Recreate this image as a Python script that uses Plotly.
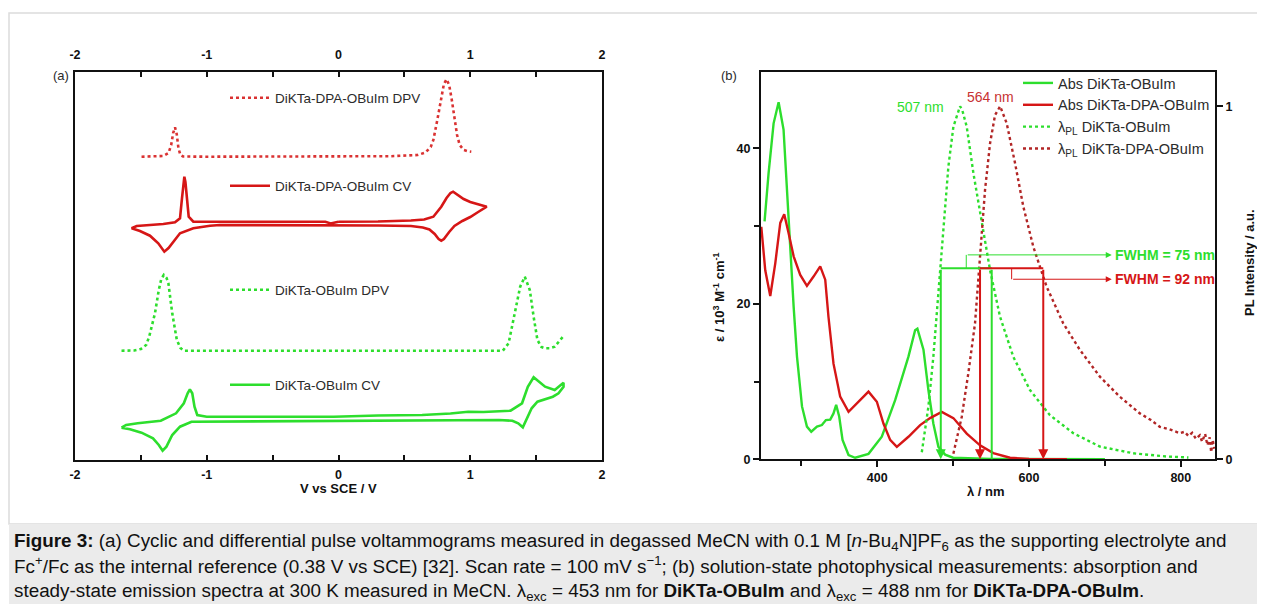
import plotly.graph_objects as go

# ---------------- Panel (a) data: potential (V vs SCE) and offset current (arb.) ----------------
dpv_red_v = [-1.495, -1.40, -1.33, -1.29, -1.27, -1.255, -1.241, -1.228, -1.215, -1.20, -1.18, -1.0, -0.5, 0.0, 0.4,
             0.6, 0.66, 0.70, 0.72, 0.75, 0.78, 0.80, 0.82, 0.84, 0.86, 0.88, 0.90, 0.92, 0.95, 0.98, 1.008]
dpv_red_i = [303.3, 303.5, 304, 307, 315, 327, 332.7, 326, 312, 305, 303.5, 303.3, 303.3, 303.5, 303.8,
             305, 307.5, 313, 320, 340, 362, 376, 380.7, 375, 360, 340, 325, 315, 310, 308.8, 308.3]

cv_red_v = [0.0, 0.3, 0.55, 0.65, 0.72, 0.78, 0.82, 0.85, 0.87, 0.90, 0.95, 1.0, 1.06, 1.125,
            1.06, 1.0, 0.94, 0.88, 0.84, 0.80, 0.78, 0.76, 0.73, 0.69, 0.64, 0.55, 0.3, 0.0, -0.5, -0.9,
            -0.975, -1.102, -1.203, -1.254, -1.29, -1.322, -1.368, -1.431, -1.507, -1.570,
            -1.532, -1.431, -1.33, -1.241, -1.203, -1.188, -1.178, -1.170, -1.162, -1.152, -1.137, -1.102,
            -0.8, -0.4, -0.1, -0.06, -0.03, 0.0]
cv_red_i = [238.3, 238.5, 239.5, 240.5, 243.3, 253.3, 262, 267, 268.3, 265.5, 261, 258, 255.5, 253.3,
            248, 243, 239, 234, 228, 221, 219.3, 221, 226, 230.5, 232.5, 234, 234.5, 234.8, 235, 235,
            234.3, 231.7, 226.7, 218.3, 212, 208.3, 216.7, 224.3, 229, 231.7,
            234, 235, 236, 237.7, 241.7, 261.7, 278, 283.3, 278, 261.7, 243.3, 238.3,
            238.3, 238.3, 238.3, 236.5, 237.5, 238.3]

dpv_green_v = [-1.647, -1.55, -1.50, -1.46, -1.437, -1.393, -1.364, -1.345, -1.326, -1.305, -1.291, -1.262, -1.227,
               -1.20, -1.175, -0.5, 0.5, 1.247, 1.291, 1.335, 1.379, 1.414, 1.452, 1.481, 1.510, 1.54, 1.568,
               1.60, 1.641, 1.708]
dpv_green_i = [109.3, 109.5, 111, 115, 123.3, 146.7, 170, 181, 185, 182, 176.7, 146.7, 120,
               112, 109.3, 109.3, 109.3, 109.3, 116.7, 146.7, 173.3, 183.3, 170, 143.3, 120, 113, 111.7,
               111.7, 113.3, 124]

cv_green_v = [-1.647, -1.612, -1.524, -1.349, -1.233, -1.174, -1.145, -1.128, -1.110, -1.093, -1.072, -1.0,
              -0.5, -0.036, 0.3, 0.635, 0.85, 0.985, 1.1, 1.306, 1.393, 1.437, 1.481, 1.525, 1.568, 1.641, 1.708,
              1.708, 1.670, 1.627, 1.510, 1.466, 1.437, 1.399, 1.364, 1.32, 1.218, 0.5, 0.0, -0.5, -1.0,
              -1.116, -1.203, -1.262, -1.306, -1.335, -1.364, -1.408, -1.495, -1.583, -1.647]
cv_green_i = [32.3, 35, 36.7, 39.3, 46.7, 56.7, 66.7, 70.7, 66.7, 53.3, 45, 43.3,
              43.3, 43.3, 44.5, 45, 46.5, 48.3, 48, 49.3, 56.7, 73.3, 82.7, 78.3, 73.3, 70, 77.3,
              73.3, 66.7, 63.3, 58.3, 51.7, 43.3, 32.7, 36.7, 39.3, 40, 39.5, 39.3, 39, 38.8,
              38.3, 33.3, 25, 13.3, 9.3, 15, 21.7, 27.3, 30.7, 32.3]

v_ticks = [-2, -1, 0, 1, 2]
v_ticktext = ["-2", "-1", "0", "1", "2"]
v_minor = [-1.5, -0.5, 0.5, 1.5]

# ---------------- Panel (b) data ----------------
abs_green_wl = [251.7, 257, 263.6, 270.2, 276.7, 281.2, 285.5, 290, 294.4, 301, 307.5, 313.2, 320.7, 327.2, 332.5,
                338.2, 342.5, 346, 350, 354.4, 362.3, 371, 388.6, 406.1, 423.7, 441.2, 450, 453, 461, 467.5,
                474, 480.7, 489.5, 500, 550, 600, 700]
abs_green_eps = [30.6, 36.8, 43.2, 45.9, 42.4, 34.6, 26.9, 19.6, 13.2, 6.8, 4.2, 3.55, 4.2, 4.4, 5.05,
                 5.1, 5.9, 7.0, 5.5, 2.5, 0.55, 0.2, 0.7, 2.9, 7.6, 13.2, 16.6, 16.8, 14.1, 8.9,
                 4.6, 1.6, 0.6, 0.2, 0.05, 0.02, 0.0]

abs_red_wl = [247.4, 252.6, 259.2, 265.8, 272.4, 277.6, 283.3, 290, 298.7, 307.5, 316.2, 325, 331.6, 335.9,
              342.5, 351.3, 362.3, 375.4, 388.6, 399.6, 408.3, 417.1, 425.9, 441.2, 450, 456.6, 469.7, 485.1,
              500.4, 518, 535.5, 553, 575, 600, 650]
abs_red_eps = [29.9, 24.3, 21.0, 25.2, 30.4, 31.5, 29.1, 26.1, 23.7, 22.3, 23.5, 24.8, 23.1, 18.3,
               12.3, 8.05, 6.1, 7.4, 8.7, 7.4, 4.6, 2.5, 1.6, 2.9, 3.8, 4.4, 5.3, 6.1,
               5.3, 3.3, 1.8, 0.8, 0.2, 0.05, 0.0]

pl_green_wl = [458.8, 467.5, 474, 480.7, 487.3, 493.8, 500.4, 507, 509.2, 512, 518, 526.8, 537.8, 548.7, 561.8,
               579.4, 601.3, 627.6, 658.3, 693.4, 737.3, 781, 810]
pl_green_int = [0.02, 0.149, 0.29, 0.48, 0.669, 0.829, 0.942, 0.99, 1.0, 0.99, 0.942, 0.81, 0.669, 0.536, 0.404,
                0.29, 0.196, 0.125, 0.074, 0.036, 0.017, 0.008, 0.005]

pl_red_wl = [500.4, 511.4, 520.1, 528.9, 535.5, 542.1, 548.7, 555.3, 562, 570.6, 581.6, 592.5, 605.7, 623.2,
             645.1, 667, 693.4, 719.7, 746, 760, 772.4, 785, 798.7, 805, 810, 815, 820, 825, 828, 832, 835,
             838, 840, 842, 844]
pl_red_int = [0.016, 0.12, 0.244, 0.385, 0.574, 0.763, 0.895, 0.975, 1.0, 0.952, 0.839, 0.716, 0.602, 0.489,
              0.385, 0.31, 0.234, 0.177, 0.13, 0.112, 0.092, 0.085, 0.074, 0.078, 0.066, 0.075, 0.058, 0.068, 0.05,
              0.072, 0.04, 0.062, 0.02, 0.055, 0.03]

# FWHM markers (nm, normalised PL)
fwhm_green = [483.8, 550.9]
fwhm_red = [535.5, 618.8]
fwhm_level = 0.541
fwhm_labels = ["FWHM = 75 nm", "FWHM = 92 nm"]
peak_labels = ["507 nm", "564 nm"]

# ---------------- style ----------------
FONT = "Liberation Sans, Arial, sans-serif"
GREEN = "rgb(45,222,45)"
RED = "rgb(214,22,22)"
RED_DPV = "rgb(218,50,50)"
RED_PL = "rgb(178,38,38)"
TXT = "#2b2b2b"
W, H = 1265, 612


def px(x):
    return x / W


def py(y):
    return 1 - y / H


fig = go.Figure()

# Panel (a) traces, each with its own legend (DPV red drawn on the top axis, same range)
fig.add_trace(go.Scatter(x=dpv_red_v, y=dpv_red_i, mode="lines", name="DiKTa-DPA-OBuIm DPV",
                         line=dict(color=RED_DPV, width=2.6, dash="dot"), xaxis="x3", yaxis="y", legend="legend2"))
fig.add_trace(go.Scatter(x=cv_red_v, y=cv_red_i, mode="lines", name="DiKTa-DPA-OBuIm CV",
                         line=dict(color=RED, width=2.6), xaxis="x", yaxis="y", legend="legend3"))
fig.add_trace(go.Scatter(x=dpv_green_v, y=dpv_green_i, mode="lines", name="DiKTa-OBuIm DPV",
                         line=dict(color=GREEN, width=2.6, dash="dot"), xaxis="x", yaxis="y", legend="legend4"))
fig.add_trace(go.Scatter(x=cv_green_v, y=cv_green_i, mode="lines", name="DiKTa-OBuIm CV",
                         line=dict(color=GREEN, width=2.6), xaxis="x", yaxis="y", legend="legend5"))

# Panel (b) traces
fig.add_trace(go.Scatter(x=abs_green_wl, y=abs_green_eps, mode="lines", name="Abs DiKTa-OBuIm",
                         line=dict(color=GREEN, width=2.4), xaxis="x2", yaxis="y2", legend="legend"))
fig.add_trace(go.Scatter(x=abs_red_wl, y=abs_red_eps, mode="lines", name="Abs DiKTa-DPA-OBuIm",
                         line=dict(color=RED, width=2.4), xaxis="x2", yaxis="y2", legend="legend"))
fig.add_trace(go.Scatter(x=pl_green_wl, y=pl_green_int, mode="lines", name="λ<sub>PL</sub> DiKTa-OBuIm",
                         line=dict(color=GREEN, width=2.4, dash="dot"), xaxis="x2", yaxis="y3", legend="legend"))
fig.add_trace(go.Scatter(x=pl_red_wl, y=pl_red_int, mode="lines", name="λ<sub>PL</sub> DiKTa-DPA-OBuIm",
                         line=dict(color=RED_PL, width=2.4, dash="dot"), xaxis="x2", yaxis="y3", legend="legend"))

# FWHM horizontal bars
fig.add_trace(go.Scatter(x=fwhm_green, y=[fwhm_level, fwhm_level], mode="lines", showlegend=False,
                         line=dict(color=GREEN, width=2), xaxis="x2", yaxis="y3"))
fig.add_trace(go.Scatter(x=fwhm_red, y=[fwhm_level, fwhm_level], mode="lines", showlegend=False,
                         line=dict(color=RED, width=2), xaxis="x2", yaxis="y3"))

annotations = []
# vertical FWHM drop lines with arrows
for xv, col, head in [(fwhm_green[0], GREEN, 2), (fwhm_green[1], GREEN, 0),
                      (fwhm_red[0], RED, 2), (fwhm_red[1], RED, 2)]:
    annotations.append(dict(x=xv, y=0, ax=xv, ay=fwhm_level, xref="x2", yref="y3", axref="x2", ayref="y3",
                            text="", showarrow=True, arrowhead=head, arrowsize=1, arrowwidth=2,
                            arrowcolor=col, standoff=0))

# connectors to FWHM labels
g_mid = (fwhm_green[0] + fwhm_green[1]) / 2
r_mid = (fwhm_red[0] + fwhm_red[1]) / 2
lab_x = 709
for mid, ylev, col, txt in [(g_mid, 0.579, GREEN, fwhm_labels[0]), (r_mid, 0.51, RED, fwhm_labels[1])]:
    fig.add_trace(go.Scatter(x=[mid, mid], y=[fwhm_level, ylev], mode="lines", showlegend=False,
                             line=dict(color=col, width=1), xaxis="x2", yaxis="y3"))
    annotations.append(dict(x=lab_x, y=ylev, ax=mid, ay=ylev, xref="x2", yref="y3", axref="x2", ayref="y3",
                            text="", showarrow=True, arrowhead=2, arrowsize=1.2, arrowwidth=1,
                            arrowcolor=col, standoff=0))
    annotations.append(dict(x=lab_x + 1, y=ylev, xref="x2", yref="y3", text="<b>" + txt + "</b>",
                            showarrow=False, xanchor="left", yanchor="middle",
                            font=dict(family=FONT, size=14, color=col)))

# peak labels
annotations.append(dict(x=491, y=0.999, xref="x2", yref="y3", text=peak_labels[0], showarrow=False,
                        xanchor="right", yanchor="middle", font=dict(family=FONT, size=14, color=GREEN)))
annotations.append(dict(x=549, y=1.027, xref="x2", yref="y3", text=peak_labels[1], showarrow=False,
                        xanchor="center", yanchor="middle", font=dict(family=FONT, size=14, color="rgb(200,50,50)")))


def pann(x, y, text, size=13, color="#111", angle=0, xanchor="center"):
    return dict(x=px(x), y=py(y), xref="paper", yref="paper", text=text, showarrow=False, textangle=angle,
                xanchor=xanchor, yanchor="middle", font=dict(family=FONT, size=size, color=color))


# panel labels and axis titles
annotations += [
    pann(61, 75, "(a)", color=TXT),
    pann(729, 75, "(b)", color=TXT),
    pann(338, 488, "<b>V vs SCE / V</b>"),
    pann(986, 491, "<b>λ / nm</b>"),
    pann(719, 297, "<b>ε / 10<sup>3</sup> M<sup>-1</sup> cm<sup>-1</sup></b>", angle=-90),
    pann(1249, 263, "<b>PL Intensity / a.u.</b>", angle=-90),
]

# caption
cap = [
    "<b>Figure 3:</b> (a) Cyclic and differential pulse voltammograms measured in degassed MeCN with 0.1 M "
    "[<i>n</i>-Bu<sub>4</sub>N]PF<sub>6</sub> as the supporting electrolyte and",
    "Fc<sup>+</sup>/Fc as the internal reference (0.38 V vs SCE) [32]. Scan rate = 100 mV s<sup>−1</sup>; "
    "(b) solution-state photophysical measurements: absorption and",
    "steady-state emission spectra at 300 K measured in MeCN. λ<sub>exc</sub> = 453 nm for <b>DiKTa-OBuIm</b> "
    "and λ<sub>exc</sub> = 488 nm for <b>DiKTa-DPA-OBuIm</b>.",
]
cap_y = [542, 565, 592]
for t, yy in zip(cap, cap_y):
    annotations.append(pann(12, yy, t, size=18.85, color="#111", xanchor="left"))

shapes = [
    dict(type="rect", xref="paper", yref="paper", x0=px(9), x1=px(1270), y0=py(524), y1=py(13),
         line=dict(color="#dcdcdc", width=1.5), fillcolor="rgba(0,0,0,0)", layer="below"),
    dict(type="rect", xref="paper", yref="paper", x0=px(9), x1=px(1270), y0=py(614), y1=py(524),
         line=dict(width=0), fillcolor="#ebebeb", layer="below"),
]

tickfont = dict(family=FONT, size=12.5, color="#111", weight="bold")
axcol = "#111"

A_X = [px(75), px(602)]
A_Y = [py(460), py(72)]
B_X = [px(761), px(1215)]
B_Y = [py(459.3), py(72)]

legend_common = dict(font=dict(family=FONT, size=13.5, color=TXT), bgcolor="rgba(0,0,0,0)",
                     borderwidth=0, xanchor="left", yanchor="middle", itemwidth=40)

vaxis_common = dict(range=[-2, 2], tickmode="array", tickvals=v_ticks, ticktext=v_ticktext, ticks="inside",
                    ticklen=5, tickwidth=1.5, tickcolor=axcol, showline=True, linecolor=axcol, linewidth=2,
                    showgrid=False, zeroline=False, tickfont=tickfont,
                    minor=dict(tickmode="array", tickvals=v_minor, ticks="inside", ticklen=5, tickwidth=1.5,
                               tickcolor=axcol, showgrid=False))

fig.update_layout(
    autosize=True, margin=dict(l=0, r=0, t=0, b=0, autoexpand=False),
    paper_bgcolor="white", plot_bgcolor="white",
    showlegend=True,
    xaxis=dict(domain=A_X, anchor="y", ticklabelstandoff=2, **vaxis_common),
    xaxis3=dict(overlaying="x", anchor="y", side="top", ticklabelstandoff=6, **vaxis_common),
    yaxis=dict(domain=A_Y, anchor="x", range=[0, 388], showticklabels=False, ticks="", showline=True,
               linecolor=axcol, linewidth=2, mirror=True, showgrid=False, zeroline=False),
    xaxis2=dict(domain=B_X, anchor="y2", range=[247, 845], dtick=200, tick0=0, ticks="outside", ticklen=6,
                tickwidth=1.5, tickcolor=axcol, showline=True, linecolor=axcol, linewidth=2, mirror=True,
                showgrid=False, zeroline=False, tickfont=tickfont,
                minor=dict(dtick=100, ticks="outside", ticklen=5, tickwidth=1.5, tickcolor=axcol, showgrid=False)),
    yaxis2=dict(domain=B_Y, anchor="x2", range=[0, 49.8], dtick=20, tick0=0, ticks="outside", ticklen=6,
                tickwidth=1.5, tickcolor=axcol, showline=True, linecolor=axcol, linewidth=2, mirror=True,
                showgrid=False, zeroline=False, tickfont=tickfont,
                minor=dict(dtick=10, ticks="outside", ticklen=5, tickwidth=1.5, tickcolor=axcol, showgrid=False)),
    yaxis3=dict(overlaying="y2", anchor="x2", side="right", range=[0, 1.097], tickvals=[0, 1],
                ticks="outside", ticklen=6, tickwidth=1.5, tickcolor=axcol, showline=True, linecolor=axcol,
                linewidth=2, showgrid=False, zeroline=False, tickfont=tickfont),
    legend=dict(x=px(1018), y=py(116), font=dict(family=FONT, size=14.5, color=TXT), bgcolor="rgba(0,0,0,0)",
                xanchor="left", yanchor="middle", tracegroupgap=0, itemwidth=30),
    legend2=dict(x=px(225), y=py(98), **legend_common),
    legend3=dict(x=px(225), y=py(186), **legend_common),
    legend4=dict(x=px(225), y=py(290), **legend_common),
    legend5=dict(x=px(225), y=py(385), **legend_common),
    annotations=annotations,
    shapes=shapes,
)

fig.write_html(
    "out.html",
    config={"displayModeBar": False},
    default_width="1265px",
    default_height="612px;margin:-8px",
    post_script="document.documentElement.style.overflow='hidden';",
)
